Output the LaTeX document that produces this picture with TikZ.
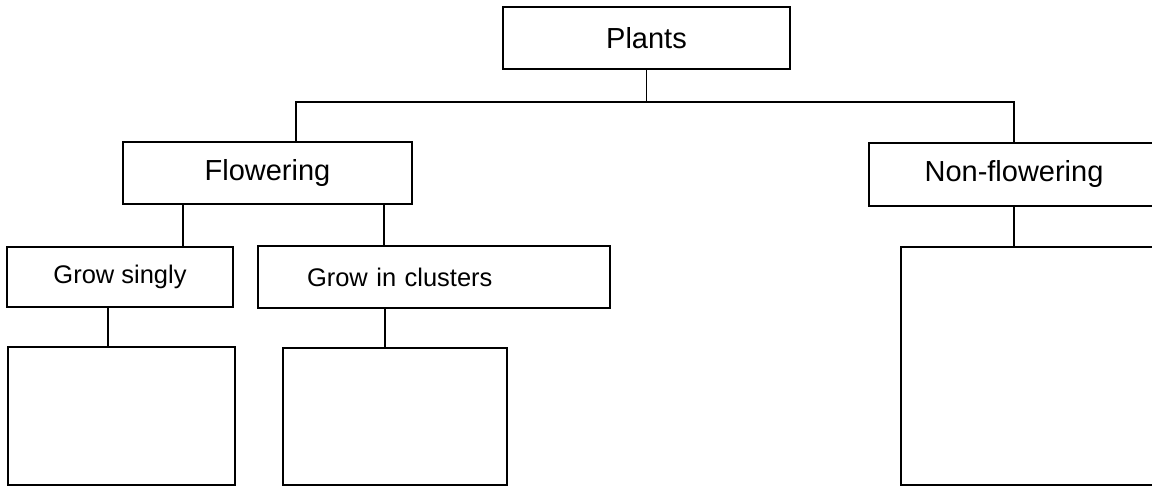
\documentclass[tikz,border=0pt]{standalone}
\usepackage{fontspec}
\setmainfont{Liberation Sans}
\usepackage{tikz}
\usetikzlibrary{positioning, calc}

\begin{document}
\begin{tikzpicture}[
    caixa/.style={draw, line width=1.1pt, inner sep=0pt, font=\fontsize{16.5}{19}\selectfont},
    caixinha/.style={caixa, font=\fontsize{14.5}{17}\selectfont},
    liga/.style={line width=1.1pt}
]
% --- MOLDURA: mesmo tamanho da figura original ---
\useasboundingbox (0,0) rectangle (23.04,9.72);
\clip (0,0) rectangle (23.04,9.72);

% LAYER 1: Topo e primeiro nivel
\node[caixa, minimum width=5.74cm, minimum height=1.24cm] (plants) at (12.93,8.96) {Plants};
\node[caixa, minimum width=5.78cm, minimum height=1.24cm] (flower) at (5.35,6.26) {Flowering};
\node[caixa, minimum width=5.80cm, minimum height=1.26cm] (nonflower) at (20.28,6.23) {Non-flowering};

% LAYER 2: Segundo nivel
\node[caixinha, minimum width=4.52cm, minimum height=1.20cm] (singly) at (2.40,4.18) {Grow singly};
\node[caixinha, minimum width=7.04cm, minimum height=1.24cm, text width=5.08cm, inner xsep=0.98cm, align=left] (clusters) at (8.68,4.18) {Grow in clusters};

% LAYER 3: Caixas vazias
\node[caixa, minimum width=4.54cm, minimum height=2.76cm] (vazio1) at (2.43,1.40) {};
\node[caixa, minimum width=4.48cm, minimum height=2.74cm] (vazio2) at (7.90,1.39) {};
\node[caixa, minimum width=5.18cm, minimum height=4.76cm] (vazio3) at (20.61,2.40) {};

% LAYER 4: Ligacoes
\coordinate (barraE) at (5.92,7.68);
\coordinate (barraD) at (20.28,7.68);
\draw[liga] (plants.south) -- (plants.south |- barraE);
\draw[liga] (barraE |- flower.north) -- (barraE) -- (barraD) -- (nonflower.north);
\draw[liga] (3.66,0 |- flower.south) -- (3.66,0 |- singly.north);
\draw[liga] (7.68,0 |- flower.south) -- (7.68,0 |- clusters.north);
\draw[liga] (2.16,0 |- singly.south) -- (2.16,0 |- vazio1.north);
\draw[liga] (7.70,0 |- clusters.south) -- (7.70,0 |- vazio2.north);
\draw[liga] (nonflower.south) -- (nonflower.south |- vazio3.north);
\end{tikzpicture}
\end{document}
